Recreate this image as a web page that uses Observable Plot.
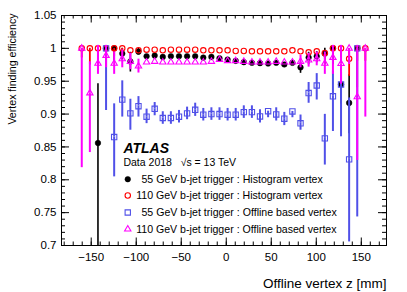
<!DOCTYPE html>
<html><head><meta charset="utf-8">
<script src="https://cdn.jsdelivr.net/npm/d3@7"></script>
<script src="https://cdn.jsdelivr.net/npm/@observablehq/plot@0.6"></script>
<style>body{margin:0;background:#fff} svg{display:block}</style>
</head><body><div id="chart"></div>
<script>
// bin centres (offline vertex z, mm)
const zBin = [-160.5,-151.5,-142.5,-133.5,-124.5,-115.5,-106.5,-97.5,-88.5,-79.5,-70.5,-61.5,-52.5,-43.5,-34.5,-25.5,-16.5,-7.5,1.5,10.5,19.5,28.5,37.5,46.5,55.5,64.5,73.5,82.5,91.5,100.5,109.5,118.5,127.5,136.5,145.5,154.5];

// 55 GeV b-jet trigger : Histogram vertex
const h55   = [null,null,0.856,1.000,1.000,0.992,0.980,0.995,0.988,0.989,0.987,0.988,0.988,0.988,0.988,0.986,0.987,0.985,0.983,0.981,0.979,0.978,0.9775,0.977,0.978,0.9755,0.978,0.971,0.986,0.988,0.992,1.000,0.945,0.917,1.000,null];
const h55Lo = [null,null,0.700,0.975,0.979,0.982,0.964,0.990,0.985,0.986,0.984,0.985,0.985,0.985,0.985,0.983,0.984,0.982,0.980,0.978,0.976,0.975,0.974,0.974,0.975,0.972,0.975,0.962,0.975,0.978,0.975,0.975,0.915,0.870,0.940,null];
const h55Hi = [null,null,0.946,1.000,1.000,1.000,0.994,1.000,0.991,0.992,0.990,0.991,0.991,0.991,0.991,0.989,0.990,0.988,0.986,0.984,0.982,0.981,0.981,0.980,0.981,0.979,0.981,0.979,0.994,0.995,1.000,1.000,0.970,0.960,1.000,null];

// 110 GeV b-jet trigger : Histogram vertex
const h110   = [1.000,1.000,1.000,1.000,1.000,1.000,0.997,0.997,0.998,0.998,0.997,0.998,0.998,0.998,0.998,0.997,0.997,0.997,0.997,0.996,0.996,0.9955,0.9955,0.9955,0.9955,0.9955,0.997,0.9955,0.994,0.9955,0.993,1.000,1.000,0.984,1.000,1.000];
const h110Lo = [0.990,0.979,0.971,0.990,0.992,0.994,0.994,0.995,0.996,0.996,0.995,0.996,0.996,0.996,0.996,0.995,0.995,0.995,0.995,0.994,0.994,0.993,0.993,0.993,0.993,0.993,0.995,0.993,0.991,0.993,0.988,0.990,0.990,0.962,0.985,0.985];
const h110Hi = [1,1,1,1,1,1,0.999,0.999,0.999,0.999,0.999,0.999,0.999,0.999,0.999,0.999,0.999,0.999,0.999,0.998,0.998,0.998,0.998,0.998,0.998,0.998,0.999,0.998,0.997,0.998,0.997,1,1,0.995,1,1];

// 55 GeV b-jet trigger : Offline based vertex
const o55   = [null,null,null,1.000,0.865,0.922,0.901,0.912,0.896,0.908,0.894,0.894,0.896,0.901,0.9065,0.899,0.900,0.900,0.899,0.899,0.903,0.903,0.8964,0.9044,0.8994,0.893,0.904,0.886,0.932,0.9435,0.863,0.927,0.945,0.831,1.000,null];
const o55Lo = [null,null,null,0.910,0.809,0.900,0.880,0.900,0.890,0.902,0.889,0.889,0.891,0.896,0.901,0.894,0.895,0.895,0.894,0.894,0.898,0.898,0.891,0.899,0.894,0.887,0.899,0.880,0.921,0.926,0.827,0.878,0.870,0.710,0.748,null];
const o55Hi = [null,null,null,1.000,0.911,0.946,0.918,0.922,0.903,0.913,0.899,0.899,0.901,0.906,0.912,0.904,0.905,0.905,0.904,0.904,0.908,0.908,0.902,0.909,0.905,0.898,0.908,0.894,0.9435,0.957,0.895,0.961,0.960,0.920,1.000,null];

// 110 GeV b-jet trigger : Offline based vertex
const o110   = [1.000,0.932,0.977,0.989,0.977,0.984,0.980,0.973,0.979,0.980,0.979,0.979,0.979,0.979,0.979,0.979,0.980,0.983,0.981,0.981,0.980,0.979,0.979,0.979,0.980,0.979,0.979,0.980,0.982,0.984,0.977,0.986,0.9766,1.000,0.926,1.000];
const o110Lo = [0.823,0.846,0.965,0.975,0.965,0.975,0.972,0.967,0.976,0.977,0.976,0.976,0.976,0.976,0.976,0.976,0.977,0.980,0.978,0.978,0.977,0.976,0.976,0.976,0.977,0.976,0.976,0.975,0.976,0.978,0.965,0.965,0.950,0.980,0.834,0.900];
const o110Hi = [1.000,0.975,1.000,1.000,0.990,0.993,0.988,0.979,0.982,0.983,0.982,0.982,0.982,0.982,0.982,0.982,0.983,0.986,0.984,0.984,0.983,0.982,0.982,0.982,0.983,0.982,0.982,0.985,0.988,0.990,0.990,1.000,1.000,1.000,1.000,1.000];

const seriesNames = [
  "55 GeV b-jet trigger : Histogram vertex",
  "110 GeV b-jet trigger : Histogram vertex",
  "55 GeV b-jet trigger : Offline based vertex",
  "110 GeV b-jet trigger : Offline based vertex"
];
const xTicks = [-150,-100,-50,0,50,100,150];
const yTicks = [0.7,0.75,0.8,0.85,0.9,0.95,1,1.05];

const FONT = "'Liberation Sans', Arial, Helvetica, sans-serif";
const W = 407, H = 292, mL = 61, mR = 21, mT = 15, mB = 47;
const frameH = H - mT - mB, frameW = W - mL - mR;

function rows(v, lo, hi) {
  const out = [];
  v.forEach((d, i) => { if (d != null) out.push({z: zBin[i], v: d, lo: lo[i], hi: hi[i]}); });
  return out;
}
const S = [
  {rows: rows(h55, h55Lo, h55Hi), color: "#000000", symbol: "circle", fill: true, r: 2.8, sw: 1.6},
  {rows: rows(h110, h110Lo, h110Hi), color: "#ff0000", symbol: "circle", fill: false, r: 2.7, sw: 1.8},
  {rows: rows(o55, o55Lo, o55Hi), color: "#5050e8", symbol: "square", fill: false, r: 3.0, sw: 2},
  {rows: rows(o110, o110Lo, o110Hi), color: "#ff00ff", symbol: "triangle", fill: false, r: 2.35, sw: 2}
];

const marks = [];
// ticks (inside frame, all four sides)
const xMinor = d3.range(-180, 180, 10);
const yMinor = d3.range(70, 106, 1).map(d => d / 100);
const tk = (len) => frameH - len, tkw = (len) => frameW - len;
marks.push(
  Plot.tickX(xMinor, {x: d => d, insetTop: tk(3.5), stroke: "black"}),
  Plot.tickX(xMinor, {x: d => d, insetBottom: tk(3.5), stroke: "black"}),
  Plot.tickX(xTicks, {x: d => d, insetTop: tk(7.5), stroke: "black"}),
  Plot.tickX(xTicks, {x: d => d, insetBottom: tk(7.5), stroke: "black"}),
  Plot.tickY(yMinor, {y: d => d, insetRight: tkw(4), stroke: "black"}),
  Plot.tickY(yMinor, {y: d => d, insetLeft: tkw(4), stroke: "black"}),
  Plot.tickY(yTicks, {y: d => d, insetRight: tkw(8), stroke: "black"}),
  Plot.tickY(yTicks, {y: d => d, insetLeft: tkw(8), stroke: "black"})
);

for (const s of S) {
  const gap = s.fill ? 0 : 3;
  marks.push(
    Plot.ruleX(s.rows.filter(d => d.hi - d.v > 0.005), {x: "z", y1: "v", y2: "hi", insetBottom: gap, stroke: s.color, strokeWidth: s.sw}),
    Plot.ruleX(s.rows.filter(d => d.v - d.lo > 0.005), {x: "z", y1: "lo", y2: "v", insetTop: gap, stroke: s.color, strokeWidth: s.sw}),
    Plot.dot(s.rows, {x: "z", y: "v", symbol: s.symbol, r: s.r,
      fill: s.fill ? s.color : "none", stroke: s.color, strokeWidth: s.fill ? 0.5 : 1.1})
  );
}

// legend & labels (placed in frame coordinates of the data scales)
const legX = -109.4, legTx110 = -100.1, legTx55 = -94.2;
const legY = [0.8009, 0.7761, 0.7502, 0.7248];
marks.push(
  Plot.text(["ATLAS"], {x: -114.2, y: 0.8415, text: d => d, textAnchor: "start", lineAnchor: "bottom",
    fontSize: 14, fontWeight: "bold", fontStyle: "italic", fill: "black"}),
  Plot.text(["Data 2018   \u221As = 13 TeV"], {x: -114.2, y: 0.8207, text: d => d, textAnchor: "start", lineAnchor: "bottom",
    fontSize: 10.5, fill: "black"})
);
S.forEach((s, i) => {
  marks.push(
    Plot.dot([i], {x: () => legX, y: () => legY[i], symbol: s.symbol, r: s.r,
      fill: s.fill ? s.color : "none", stroke: s.color, strokeWidth: s.fill ? 0.5 : 1.1}),
    Plot.text([seriesNames[i]], {x: () => (i % 2 === 0 ? legTx55 : legTx110), y: () => legY[i], text: d => d,
      textAnchor: "start", lineAnchor: "middle", fontSize: 10.6, fill: "black"})
  );
});

marks.push(
  Plot.frame({stroke: "black", strokeWidth: 1}),
  Plot.axisX({ticks: xTicks, tickSize: 0, tickPadding: 7, fontSize: 11.5}),
  Plot.axisY({ticks: yTicks, tickSize: 0, tickPadding: 5, fontSize: 11.5, tickFormat: d3.format("~g"), label: null}),
  Plot.text(["Offline vertex z [mm]"], {frameAnchor: "bottom-right", textAnchor: "end", lineAnchor: "bottom", dy: 42, fontSize: 13.5, fill: "black"}),
  Plot.text(["Vertex finding efficiency"], {frameAnchor: "top-left", rotate: -90, textAnchor: "end", lineAnchor: "middle", dx: -49, dy: -2, fontSize: 10.6, fill: "black"})
);

const chart = Plot.plot({
  width: W, height: H,
  marginLeft: mL, marginRight: mR, marginTop: mT, marginBottom: mB,
  x: {domain: [-183, 178], label: null},
  y: {domain: [0.7, 1.05], label: null},
  style: {fontFamily: FONT, fontSize: "11.5px", color: "black", background: "white"},
  marks
});
document.getElementById("chart").appendChild(chart);
</script>
</body></html>
